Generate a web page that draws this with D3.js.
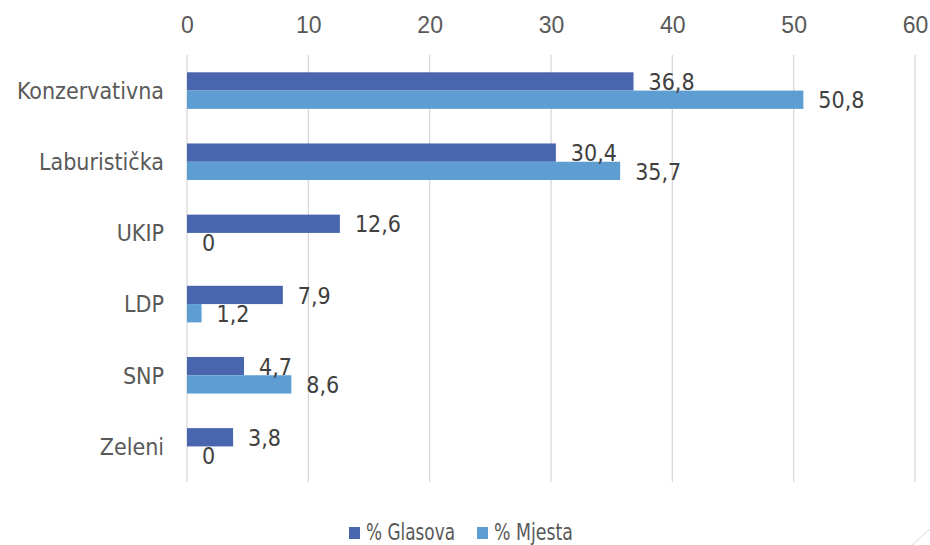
<!DOCTYPE html>
<html><head><meta charset="utf-8">
<script src="https://cdn.jsdelivr.net/npm/d3@7"></script>
<style>
html,body{margin:0;padding:0;background:#fff;}
svg{display:block;font-family:"DejaVu Sans Condensed","DejaVu Sans",sans-serif;}
</style></head>
<body><svg id="c" width="930" height="545"></svg>
<script>
const categories = ["Konzervativna","Laburistička","UKIP","LDP","SNP","Zeleni"];
const seriesNames = ["% Glasova","% Mjesta"];
const glasova = [36.8, 30.4, 12.6, 7.9, 4.7, 3.8];
const mjesta = [50.8, 35.7, 0, 1.2, 8.6, 0];
const tickValues = [0,10,20,30,40,50,60];
const colors = ["#4865AE","#5E9DD2"];

const svg = d3.select("#c");
const x = d3.scaleLinear().domain([0,60]).range([187,915]);
const y = d3.scaleBand().domain(categories).range([55,482]).paddingInner(0.486).paddingOuter(0.243);
const sub = d3.scaleBand().domain(seriesNames).range([0,y.bandwidth()]);
const fmt = v => String(v).replace(".", ",");

// gridlines
svg.append("g").selectAll("line").data(tickValues).join("line")
  .attr("x1", d=>x(d)).attr("x2", d=>x(d)).attr("y1",55).attr("y2",482)
  .attr("stroke","#d9d9d9").attr("stroke-width",1.3);

// top axis labels
const ax = svg.append("g").attr("transform","translate(0,33)")
  .call(d3.axisTop(x).tickValues(tickValues).tickSize(0).tickPadding(0).tickFormat(d=>d));
ax.select(".domain").remove();
ax.selectAll("text").attr("font-size",23).attr("fill","#595959").attr("font-family",null);

// category labels
svg.append("g").selectAll("text").data(categories).join("text")
  .attr("x",164).attr("y",d=>y(d)+y.bandwidth()/2).attr("dy","0.36em")
  .attr("text-anchor","end").attr("font-size",23).attr("fill","#595959").text(d=>d);

const rows = categories.map((c,i)=>({c, vals:[glasova[i], mjesta[i]]}));
const g = svg.append("g").selectAll("g").data(rows).join("g")
  .attr("transform", d=>`translate(0,${y(d.c)})`);
g.selectAll("rect").data(d=>d.vals.map((v,k)=>({v,k}))).join("rect")
  .attr("x", x(0)).attr("y", d=>sub(seriesNames[d.k]))
  .attr("width", d=>x(d.v)-x(0)).attr("height", sub.bandwidth())
  .attr("fill", d=>colors[d.k]);
g.selectAll("text").data(d=>d.vals.map((v,k)=>({v,k}))).join("text")
  .attr("x", d=>x(d.v)+15).attr("y", d=>sub(seriesNames[d.k])+sub.bandwidth()-0.5)
  .attr("font-size",23).attr("fill","#404040").text(d=>fmt(d.v));

// legend
const leg = svg.append("g");
const legX = [349, 477];
const legW = [89, 79];
seriesNames.forEach((s,i)=>{
  leg.append("rect").attr("x",legX[i]).attr("y",527).attr("width",11).attr("height",12).attr("fill",colors[i]);
  leg.append("text").attr("x",legX[i]+17).attr("y",540).attr("font-size",23).attr("fill","#595959")
    .attr("textLength",legW[i]).attr("lengthAdjust","spacingAndGlyphs").text(s);
});
// corner decoration
svg.append("line").attr("x1",912).attr("y1",545).attr("x2",930).attr("y2",529).attr("stroke","#d9d9d9").attr("stroke-width",1);
</script></body></html>
